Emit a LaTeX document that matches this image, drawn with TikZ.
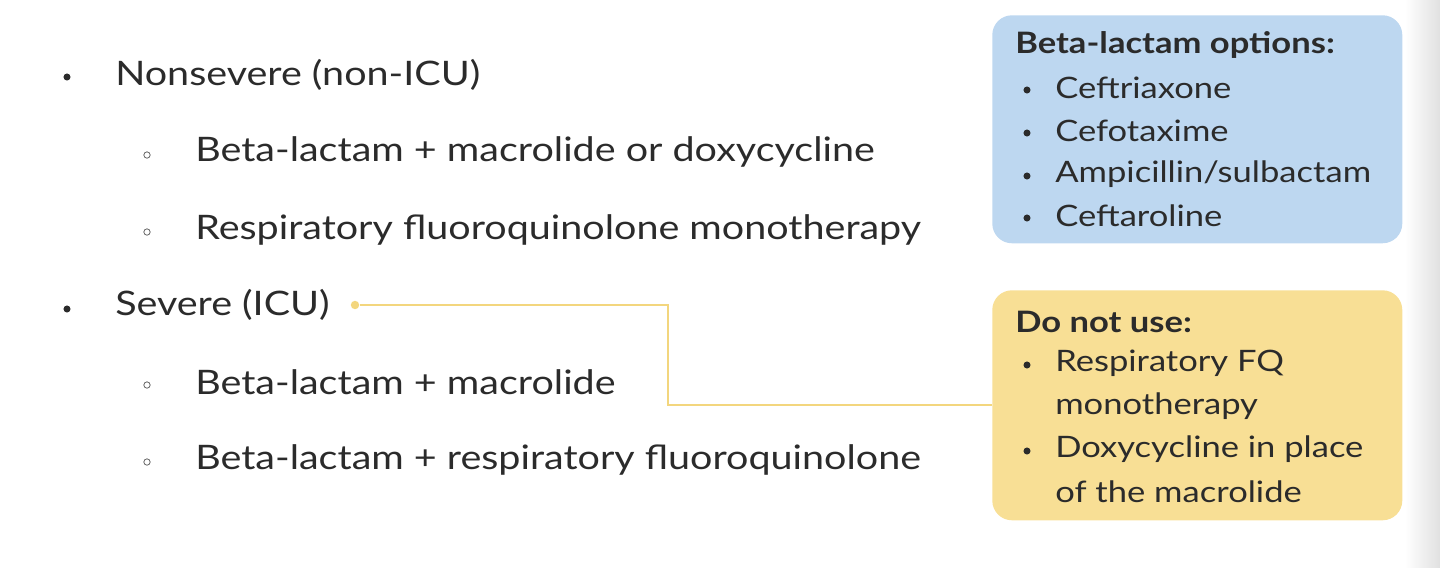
\documentclass[tikz,border=0pt]{standalone}
\usepackage{fontspec}
\setmainfont{Lato}[FakeStretch=1.17]
\definecolor{txt}{HTML}{2B2B2B}
\definecolor{bluebox}{HTML}{BDD7F0}
\definecolor{yelbox}{HTML}{F8DF95}
\definecolor{yelline}{HTML}{F3D67E}
\begin{document}
\begin{tikzpicture}[x=0.025cm,y=-0.025cm,
  main/.style={anchor=west,text=txt,font=\fontsize{24}{28}\selectfont,inner sep=0},
  boxt/.style={anchor=west,text=txt,font=\fontsize{21}{25}\selectfont,inner sep=0},
  bdot/.style={circle,fill=txt,inner sep=0,minimum size=5pt},
  sdot/.style={circle,draw=txt!70,line width=0.6pt,inner sep=0,minimum size=4.5pt},
  kdot/.style={circle,fill=txt,inner sep=0,minimum size=5pt}]
\useasboundingbox (0,0) rectangle (1440,567);
\fill[left color=white,right color=black!12] (1405,0) rectangle (1440,567);
% main list
\node[bdot] (d1) at (67,77) {};
\node[main] (t1) at (115,75) {Nonsevere (non-ICU)};
\node[sdot] (s1) at (147,155) {};
\node[main] (t2) at (195,152) {Beta-lactam + macrolide or doxycycline};
\node[sdot] (s2) at (147,232) {};
\node[main] (t3) at (195,230) {Respiratory fluoroquinolone monotherapy};
\node[bdot] (d2) at (67,309) {};
\node[main] (t4) at (115,305) {Severe (ICU)};
\node[sdot] (s3) at (147,385) {};
\node[main] (t5) at (195,382) {Beta-lactam + macrolide};
\node[sdot] (s4) at (147,462) {};
\node[main] (t6) at (195,460) {Beta-lactam + respiratory fluoroquinolone};
% boxes
\node[fill=bluebox,rounded corners=14pt,minimum width=410*0.025cm,minimum height=228*0.025cm,anchor=north west] (bb) at (992,15) {};
\node[fill=yelbox,rounded corners=14pt,minimum width=410*0.025cm,minimum height=230*0.025cm,anchor=north west] (yb) at (992,290) {};
\node[boxt,font=\fontsize{21}{25}\selectfont\bfseries] (bt) at (1015,45) {Beta-lactam options:};
\node[kdot] (bd1) at (1027,90) {};
\node[boxt] (bl1) at (1055,88) {Ceftriaxone};
\node[kdot] (bd2) at (1027,133) {};
\node[boxt] (bl2) at (1055,131) {Cefotaxime};
\node[kdot] (bd3) at (1027,176) {};
\node[boxt] (bl3) at (1055,174) {Ampicillin/sulbactam};
\node[kdot] (bd4) at (1027,218) {};
\node[boxt] (bl4) at (1055,216) {Ceftaroline};
\node[boxt,font=\fontsize{21}{25}\selectfont\bfseries] (yt) at (1015,322) {Do not use:};
\node[kdot] (yd1) at (1027,365) {};
\node[boxt] (yl1) at (1055,363) {Respiratory FQ};
\node[boxt] (yl3) at (1055,406) {monotherapy};
\node[kdot] (yd2) at (1027,451) {};
\node[boxt] (yl2) at (1055,449) {Doxycycline in place};
\node[boxt] (yl4) at (1055,492) {of the macrolide};
% connector
\node[circle,fill=yelline,inner sep=0,minimum size=6pt] (cd) at (355,305) {};
\coordinate (c1) at (668,305);
\coordinate (c2) at (668,405);
\draw[yelline,line width=1.3pt] (cd) -- (c1) -- (c2) -- (yb.west |- c2);
\end{tikzpicture}
\end{document}
